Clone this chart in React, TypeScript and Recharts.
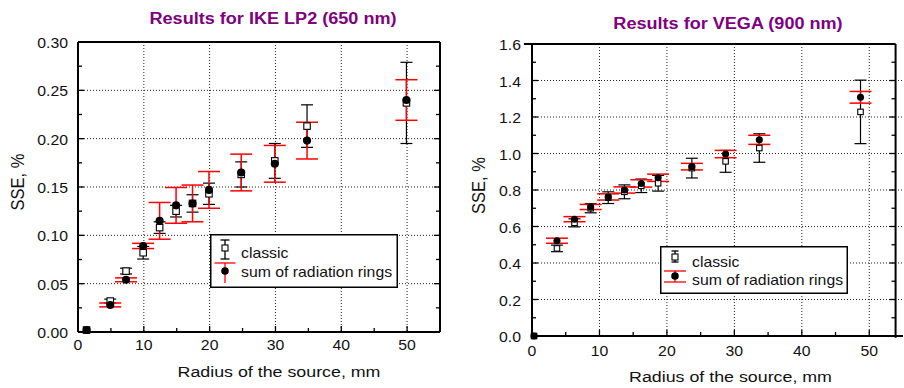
import {
  CartesianGrid,
  ErrorBar,
  Legend,
  ReferenceLine,
  Scatter,
  ScatterChart,
  XAxis,
  YAxis,
} from "recharts";

const FONT = '"Liberation Sans", Arial, Helvetica, sans-serif';
const SX = 1.13; // the reference text is a little stretched horizontally
const PURPLE = "#800080";
const RED = "#ff0000";

const seriesNames = ["classic", "sum of radiation rings"];

// IKE LP2 (650 nm)
const radiusL = [1.3, 4.9, 7.3, 9.9, 12.4, 14.9, 17.4, 19.9, 24.8, 29.9, 34.8, 49.9];
const classicL = [0.002, 0.032, 0.063, 0.082, 0.108, 0.125, 0.133, 0.143, 0.163, 0.177, 0.213, 0.237];
const classicErrL = [0, 0.002, 0.003, 0.0065, 0.006, 0.006, 0.009, 0.011, 0.013, 0.018, 0.022, 0.042];
const ringsL = [0.002, 0.028, 0.054, 0.089, 0.115, 0.131, 0.133, 0.147, 0.165, 0.174, 0.198, 0.24];
const ringsErrL = [0, 0.002, 0.002, 0.0027, 0.019, 0.0185, 0.019, 0.019, 0.019, 0.019, 0.019, 0.021];

const xTicksL = [0, 5, 10, 15, 20, 25, 30, 35, 40, 45, 50];
const xMajorL = [0, 10, 20, 30, 40, 50];
const yTicksL = [0, 0.025, 0.05, 0.075, 0.1, 0.125, 0.15, 0.175, 0.2, 0.225, 0.25, 0.275, 0.3];
const yMajorL = [0, 0.05, 0.1, 0.15, 0.2, 0.25, 0.3];
const gridXL = [10, 20, 30, 40, 50];
const gridYL = [0.05, 0.1, 0.15, 0.2, 0.25];

// VEGA (900 nm)
const radiusR = [0.3, 3.7, 6.3, 8.7, 11.3, 13.7, 16.2, 18.7, 23.7, 28.7, 33.7, 48.7];
const classicR = [0, 0.48, 0.62, 0.7, 0.758, 0.79, 0.823, 0.837, 0.92, 0.957, 1.03, 1.228];
const classicErrR = [0, 0.018, 0.022, 0.025, 0.032, 0.038, 0.037, 0.043, 0.054, 0.06, 0.078, 0.174];
const ringsR = [0, 0.522, 0.64, 0.707, 0.762, 0.8, 0.836, 0.867, 0.928, 0.997, 1.075, 1.308];
const ringsErrR = [0, 0.014, 0.014, 0.014, 0.017, 0.017, 0.02, 0.02, 0.018, 0.02, 0.025, 0.032];

const xTicksR = [0, 5, 10, 15, 20, 25, 30, 35, 40, 45, 50];
const xMajorR = [0, 10, 20, 30, 40, 50];
// the top/right frame of this panel is drawn shifted left by about 1.1 mm
const xTopTicksR = [3.9, 8.9, 13.9, 18.9, 23.9, 28.9, 33.9, 38.9, 43.9, 48.9];
const xTopMajorR = [8.9, 18.9, 28.9, 38.9, 48.9];
const yTicksR = [0, 0.1, 0.2, 0.3, 0.4, 0.5, 0.6, 0.7, 0.8, 0.9, 1.0, 1.1, 1.2, 1.3, 1.4, 1.5, 1.6];
const yMajorR = [0, 0.2, 0.4, 0.6, 0.8, 1.0, 1.2, 1.4, 1.6];
const gridXR = [10, 20, 30, 40, 50];
const gridYR = [0.2, 0.4, 0.6, 0.8, 1.0, 1.2, 1.4];
const frameRightR = 53.9;
const frameLeftR = -1.2;

const isMajor = (majors: number[], v: number) => majors.some((m) => Math.abs(m - v) < 1e-6);

type Side = "bottom" | "top" | "left" | "right";

function tickRenderer(
  side: Side,
  majors: number[],
  format?: (v: number) => string,
  dx = 0,
  dy = 0
) {
  return (props: any) => {
    const { x, y, payload } = props;
    const v = Number(payload.value);
    const major = isMajor(majors, v);
    const len = major ? 6 : 4;
    let line = null;
    if (side === "bottom") line = <line x1={x} y1={y} x2={x} y2={y - len} />;
    if (side === "top") line = <line x1={x} y1={y} x2={x} y2={y + len} />;
    if (side === "left") line = <line x1={x} y1={y} x2={x + len} y2={y} />;
    if (side === "right") line = <line x1={x} y1={y} x2={x - len} y2={y} />;
    return (
      <g stroke="#000" strokeWidth={1.3}>
        {line}
        {format && major ? (
          <text
            transform={`translate(${x + dx},${y + dy}) scale(${SX},1)`}
            textAnchor={side === "left" ? "end" : "middle"}
            stroke="none"
            fill="#111"
            fontFamily={FONT}
            fontSize={14}
          >
            {format(v)}
          </text>
        ) : null}
      </g>
    );
  };
}

const squareMark = (size: number) => (p: any) =>
  p.cx == null ? (
    <g />
  ) : (
    <rect
      x={p.cx - size / 2}
      y={p.cy - size / 2}
      width={size}
      height={size}
      fill="#fff"
      stroke="#000"
      strokeWidth={1.1}
    />
  );

const dotMark = (r: number) => (p: any) =>
  p.cx == null ? <g /> : <circle cx={p.cx} cy={p.cy} r={r} fill="#000" />;

interface LegendRow {
  color: string;
  mark: "square" | "dot";
  barTop: number;
  barBottom: number;
  capHalf: number;
  caps: "both" | "top";
  markY: number;
  textY: number;
}

interface LegendLayout {
  left: number;
  top: number;
  width: number;
  height: number;
  sampleX: number;
  textX: number;
  rows: LegendRow[];
}

function LegendBox({ box }: { box: LegendLayout }) {
  const sx = box.sampleX;
  return (
    <svg width={box.width} height={box.height} style={{ display: "block" }}>
      <rect
        x={0.75}
        y={0.75}
        width={box.width - 1.5}
        height={box.height - 1.5}
        fill="#fff"
        stroke="#000"
        strokeWidth={1.5}
      />
      {box.rows.map((r, i) => (
        <g key={i}>
          <g stroke={r.color} strokeWidth={1.3}>
            <line x1={sx} x2={sx} y1={r.barTop} y2={r.barBottom} />
            <line x1={sx - r.capHalf} x2={sx + r.capHalf} y1={r.barTop} y2={r.barTop} />
            {r.caps === "both" ? (
              <line x1={sx - r.capHalf} x2={sx + r.capHalf} y1={r.barBottom} y2={r.barBottom} />
            ) : null}
          </g>
          {r.mark === "square" ? (
            <rect x={sx - 3} y={r.markY - 3} width={6} height={6} fill="#fff" stroke="#000" strokeWidth={1.1} />
          ) : (
            <circle cx={sx} cy={r.markY} r={3.8} fill="#000" />
          )}
          <text
            transform={`translate(${box.textX},${r.textY}) scale(${SX},1)`}
            fontFamily={FONT}
            fontSize={14}
            fill="#111"
          >
            {seriesNames[i]}
          </text>
        </g>
      ))}
    </svg>
  );
}

interface PanelProps {
  title: string;
  radius: number[];
  classic: number[];
  classicErr: number[];
  rings: number[];
  ringsErr: number[];
  xDomain: [number, number];
  yDomain: [number, number];
  xTicks: number[];
  xMajor: number[];
  xTopTicks: number[];
  xTopMajor: number[];
  yTicks: number[];
  yMajor: number[];
  gridX: number[];
  gridY: number[];
  yFormat: (v: number) => string;
  plot: { top: number; right: number; bottom: number; left: number };
  xLabelDy: number;
  yLabelDx: number;
  titlePos: { dx: number; dy: number };
  xTitlePos: { dx: number; dy: number };
  yTitlePos: { dx: number; dy: number };
  legend: LegendLayout;
  shiftedFrame?: { left: number; right: number };
  markSize: number;
}

function Panel(p: PanelProps) {
  const W = 452;
  const H = 388;
  // every axis takes 1px, so pull the margins in by that much
  const margin = {
    top: p.plot.top - 1,
    right: p.plot.right - 1,
    bottom: p.plot.bottom - 1,
    left: p.plot.left - 1,
  };
  const plotW = W - p.plot.left - p.plot.right;
  const plotH = H - p.plot.top - p.plot.bottom;
  const classicData = p.radius.map((x, i) => ({ x, y: p.classic[i], err: p.classicErr[i] }));
  const ringsData = p.radius.map((x, i) => ({ x, y: p.rings[i], err: p.ringsErr[i] }));
  const frame = { stroke: "#000", strokeWidth: 2 };
  const yTop = p.yDomain[1];

  const titleContent = () => (
    <text
      transform={`translate(${p.plot.left + plotW / 2 + p.titlePos.dx},${p.plot.top + p.titlePos.dy}) scale(${SX},1)`}
      textAnchor="middle"
      fontFamily={FONT}
      fontSize={16}
      fontWeight="bold"
      fill={PURPLE}
    >
      {p.title}
    </text>
  );

  const xTitleContent = () => (
    <text
      transform={`translate(${p.plot.left + plotW / 2 + p.xTitlePos.dx},${p.plot.top + plotH + p.xTitlePos.dy}) scale(1.15,1)`}
      textAnchor="middle"
      fontFamily={FONT}
      fontSize={15.5}
      fill="#111"
    >
      Radius of the source, mm
    </text>
  );

  const yTitleContent = () => (
    <text
      transform={`translate(${p.plot.left + p.yTitlePos.dx},${p.plot.top + plotH / 2 + p.yTitlePos.dy}) scale(${SX},1) rotate(-90)`}
      textAnchor="middle"
      fontFamily={FONT}
      fontSize={16.5}
      fill="#111"
    >
      SSE, %
    </text>
  );

  const sf = p.shiftedFrame;

  return (
    <ScatterChart width={W} height={H} margin={margin}>
      <CartesianGrid
        stroke="#222"
        strokeDasharray="1 2"
        fill="none"
        verticalValues={p.gridX}
        horizontalValues={p.gridY}
      />
      <XAxis
        dataKey="x"
        type="number"
        domain={p.xDomain}
        ticks={p.xTicks}
        interval={0}
        height={1}
        tickSize={0}
        tickMargin={0}
        tickLine={false}
        axisLine={frame}
        tick={tickRenderer("bottom", p.xMajor, (v) => String(v), 0, p.xLabelDy)}
        label={{ content: xTitleContent }}
      />
      <XAxis
        xAxisId="t"
        orientation="top"
        type="number"
        domain={p.xDomain}
        allowDataOverflow
        ticks={p.xTopTicks}
        interval={0}
        height={1}
        tickSize={0}
        tickMargin={0}
        tickLine={false}
        axisLine={sf ? false : frame}
        tick={tickRenderer("top", p.xTopMajor)}
        label={{ content: titleContent }}
      />
      <YAxis
        dataKey="y"
        type="number"
        domain={p.yDomain}
        ticks={p.yTicks}
        interval={0}
        width={1}
        tickSize={0}
        tickMargin={0}
        tickLine={false}
        axisLine={frame}
        tick={tickRenderer("left", p.yMajor, p.yFormat, p.yLabelDx, 6)}
        label={{ content: yTitleContent }}
      />
      <YAxis
        yAxisId="r"
        orientation="right"
        type="number"
        domain={p.yDomain}
        allowDataOverflow
        ticks={p.yTicks}
        interval={0}
        width={1}
        tickSize={0}
        tickMargin={0}
        tickLine={false}
        axisLine={sf ? false : frame}
        tick={sf ? false : tickRenderer("right", p.yMajor)}
      />
      {sf ? (
        <ReferenceLine
          segment={[
            { x: sf.left, y: yTop },
            { x: sf.right, y: yTop },
          ]}
          stroke="#000"
          strokeWidth={2}
          ifOverflow="visible"
        />
      ) : null}
      {sf ? (
        <ReferenceLine
          segment={[
            { x: sf.right, y: yTop },
            { x: sf.right, y: p.yDomain[0] - 0.01 },
          ]}
          stroke="#000"
          strokeWidth={2}
          ifOverflow="visible"
        />
      ) : null}
      {sf
        ? p.yTicks
            .filter((v) => v > p.yDomain[0] && v < yTop)
            .map((v) => (
              <ReferenceLine
                key={`rt${v}`}
                segment={[
                  { x: sf.right - (isMajor(p.yMajor, v) ? 0.9 : 0.6), y: v },
                  { x: sf.right, y: v },
                ]}
                stroke="#000"
                strokeWidth={1.3}
                ifOverflow="visible"
              />
            ))
        : null}
      <Scatter
        name={seriesNames[0]}
        data={classicData}
        shape={squareMark(p.markSize)}
        isAnimationActive={false}
      >
        <ErrorBar dataKey="err" direction="y" width={6} stroke="#000" strokeWidth={1.2} isAnimationActive={false} />
      </Scatter>
      <Scatter
        name={seriesNames[1]}
        data={ringsData}
        shape={dotMark(p.markSize / 2 + 0.8)}
        isAnimationActive={false}
      >
        <ErrorBar dataKey="err" direction="y" width={11} stroke={RED} strokeWidth={1.5} isAnimationActive={false} />
      </Scatter>
      <Legend
        layout="vertical"
        align="center"
        verticalAlign="middle"
        content={() => <LegendBox box={p.legend} />}
        wrapperStyle={{
          left: p.legend.left,
          top: p.legend.top,
          width: p.legend.width,
          height: p.legend.height,
        }}
      />
    </ScatterChart>
  );
}

const legendL: LegendLayout = {
  left: 210,
  top: 234,
  width: 188,
  height: 54,
  sampleX: 15,
  textX: 31,
  rows: [
    { color: "#000", mark: "square", barTop: 6, barBottom: 25, capHalf: 4.5, caps: "both", markY: 14, textY: 24 },
    { color: RED, mark: "dot", barTop: 29, barBottom: 49, capHalf: 10.5, caps: "top", markY: 37, textY: 42.5 },
  ],
};

const legendR: LegendLayout = {
  left: 208,
  top: 246,
  width: 188,
  height: 48,
  sampleX: 15,
  textX: 32,
  rows: [
    { color: "#000", mark: "square", barTop: 5, barBottom: 16, capHalf: 3.5, caps: "both", markY: 11, textY: 21 },
    { color: RED, mark: "dot", barTop: 25, barBottom: 36, capHalf: 11, caps: "both", markY: 30, textY: 38.5 },
  ],
};

export default function App() {
  return (
    <div
      style={{
        position: "absolute",
        left: 0,
        top: 0,
        width: 904,
        height: 388,
        background: "#fff",
        overflow: "hidden",
      }}
    >
      <div style={{ position: "absolute", left: 0, top: 0 }}>
        <Panel
          title="Results for IKE LP2 (650 nm)"
          radius={radiusL}
          classic={classicL}
          classicErr={classicErrL}
          rings={ringsL}
          ringsErr={ringsErrL}
          xDomain={[0, 55]}
          yDomain={[0, 0.3]}
          xTicks={xTicksL}
          xMajor={xMajorL}
          xTopTicks={xTicksL}
          xTopMajor={xMajorL}
          yTicks={yTicksL}
          yMajor={yMajorL}
          gridX={gridXL}
          gridY={gridYL}
          yFormat={(v) => v.toFixed(2)}
          plot={{ top: 42, right: 12, bottom: 56, left: 78 }}
          xLabelDy={18}
          yLabelDx={-10}
          titlePos={{ dx: 14, dy: -18 }}
          xTitlePos={{ dx: 20, dy: 45 }}
          yTitlePos={{ dx: -54.5, dy: -5 }}
          legend={legendL}
          markSize={6.5}
        />
      </div>
      <div style={{ position: "absolute", left: 452, top: 0 }}>
        <Panel
          title="Results for VEGA (900 nm)"
          radius={radiusR}
          classic={classicR}
          classicErr={classicErrR}
          rings={ringsR}
          ringsErr={ringsErrR}
          xDomain={[0, 55]}
          yDomain={[0, 1.6]}
          xTicks={xTicksR}
          xMajor={xMajorR}
          xTopTicks={xTopTicksR}
          xTopMajor={xTopMajorR}
          yTicks={yTicksR}
          yMajor={yMajorR}
          gridX={gridXR}
          gridY={gridYR}
          yFormat={(v) => v.toFixed(1)}
          plot={{ top: 44, right: 1, bottom: 52, left: 80 }}
          xLabelDy={19.5}
          yLabelDx={-11}
          titlePos={{ dx: 10.5, dy: -15 }}
          xTitlePos={{ dx: 13, dy: 45.5 }}
          yTitlePos={{ dx: -47, dy: -4.5 }}
          legend={legendR}
          shiftedFrame={{ left: frameLeftR, right: frameRightR }}
          markSize={5.5}
        />
      </div>
    </div>
  );
}
